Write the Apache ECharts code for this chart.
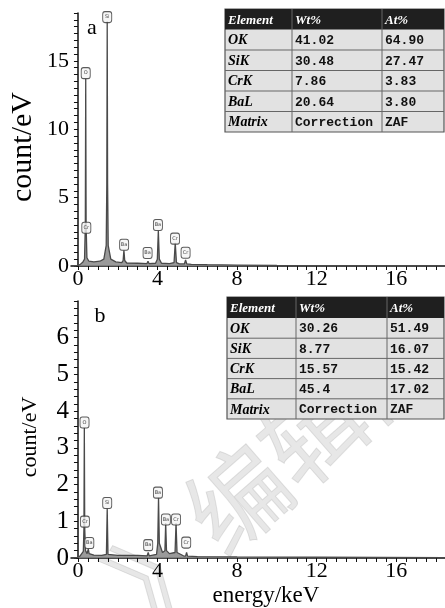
<!DOCTYPE html>
<html><head><meta charset="utf-8">
<script src="https://cdn.jsdelivr.net/npm/echarts@6/dist/echarts.min.js"></script>
<style>html,body{margin:0;padding:0;background:#fff}#c{width:445px;height:608px}</style>
</head><body><div id="c"></div>
<script>
// ---------- data ----------
const energyA = [-0.35, -0.1, 0.1, 0.25, 0.33, 0.37, 0.39, 0.41, 0.45, 0.55, 0.8, 1.1, 1.3, 1.42, 1.45, 1.47, 1.49, 1.52, 1.65, 1.9, 2.2, 2.27, 2.31, 2.35, 2.45, 3.0, 3.47, 3.52, 3.57, 3.9, 3.99, 4.04, 4.09, 4.2, 4.6, 4.83, 4.89, 4.95, 5.1, 5.35, 5.41, 5.47, 5.7, 6.5, 8, 10, 12, 14, 18.45];
const countA  = [0, 0, 0.1, 0.3, 0.5, 3, 13.7, 3, 0.6, 0.35, 0.3, 0.35, 0.5, 1.5, 6, 17.9, 6, 1.5, 0.5, 0.3, 0.25, 0.4, 1.15, 0.4, 0.22, 0.2, 0.18, 0.35, 0.18, 0.2, 0.5, 2.6, 0.5, 0.2, 0.18, 0.25, 1.7, 0.25, 0.15, 0.15, 0.45, 0.15, 0.12, 0.1, 0.07, 0.04, 0.03, 0.02, 0.01];
const peakLabelXA = [0.39, 0.42, 1.47, 2.32, 3.5, 4.02, 4.88, 5.41];
const peakLabelYA = [14.1, 2.8, 18.2, 1.55, 0.95, 3.0, 2.0, 0.97];
const peakLabelTA = ['O', 'Cr', 'Si', 'Ba', 'Ba', 'Ba', 'Cr', 'Cr'];

const energyB = [-0.35, -0.1, 0.1, 0.2, 0.27, 0.3, 0.32, 0.34, 0.38, 0.46, 0.52, 0.56, 0.6, 0.8, 1.2, 1.43, 1.47, 1.51, 2.0, 3.0, 3.48, 3.53, 3.58, 3.95, 4.01, 4.05, 4.09, 4.25, 4.37, 4.41, 4.45, 4.6, 4.88, 4.93, 4.98, 5.3, 5.41, 5.46, 5.51, 6, 8, 12, 18.45];
const countB  = [0, 0, 0.05, 0.1, 0.18, 0.8, 3.55, 0.8, 0.2, 0.12, 0.25, 0.12, 0.1, 0.08, 0.07, 0.1, 1.35, 0.1, 0.07, 0.07, 0.06, 0.15, 0.06, 0.1, 0.4, 1.65, 0.4, 0.15, 0.2, 0.95, 0.2, 0.12, 0.15, 0.95, 0.15, 0.06, 0.05, 0.15, 0.05, 0.04, 0.03, 0.02, 0.01];
const peakLabelXB = [0.33, 0.35, 0.57, 1.47, 3.53, 4.02, 4.42, 4.93, 5.44];
const peakLabelYB = [3.69, 0.99, 0.41, 1.5, 0.35, 1.78, 1.05, 1.05, 0.42];
const peakLabelTB = ['O', 'Cr', 'Ba', 'Si', 'Ba', 'Ba', 'Ba', 'Cr', 'Cr'];

const xTickLabels = [0, 4, 8, 12, 16];
const yTickLabelsA = [0, 5, 10, 15];
const yTickLabelsB = [0, 1, 2, 3, 4, 5, 6];

const tableHeader = ['Element', 'Wt%', 'At%'];
const tableElements = ['OK', 'SiK', 'CrK', 'BaL', 'Matrix'];
const wtA = ['41.02', '30.48', '7.86', '20.64', 'Correction'];
const atA = ['64.90', '27.47', '3.83', '3.80', 'ZAF'];
const wtB = ['30.26', '8.77', '15.57', '45.4', 'Correction'];
const atB = ['51.49', '16.07', '15.42', '17.02', 'ZAF'];

// ---------- helpers ----------
function zip(xs, ys) { const n = Math.min(xs.length, ys.length); const r = []; for (let i = 0; i < n; i++) r.push([xs[i], ys[i]]); return r; }
function steps(from, to, step) { const r = []; const n = Math.round((to - from) / step); for (let i = 0; i <= n; i++) r.push(Math.round((from + i * step) * 1000) / 1000); return r; }
function labelData(xs, ys, ts) { return xs.map((x, i) => ({ value: [x, ys[i]], name: ts[i] })); }

const serif = '"Liberation Serif", "Times New Roman", serif';

function xAxisCfg(grid) {
  return {
    type: 'value', gridIndex: grid, min: -0.35, max: 18.45,
    axisLine: { show: true, onZero: false, lineStyle: { color: '#111', width: 1.5 } },
    axisTick: { show: true, length: 4, lineStyle: { color: '#111', width: 1 }, customValues: steps(0, 18, 0.5) },
    axisLabel: { customValues: xTickLabels, fontFamily: serif, fontSize: 22, color: '#000', margin: 2 },
    splitLine: { show: false }
  };
}
function yAxisCfg(grid, max, labels, tickStep, fs) {
  return {
    type: 'value', gridIndex: grid, min: 0, max: max,
    axisLine: { show: true, lineStyle: { color: '#111', width: 1.5 } },
    axisTick: { show: true, length: 4, lineStyle: { color: '#111', width: 1 }, customValues: steps(0, max, tickStep) },
    axisLabel: { customValues: labels, fontFamily: serif, fontSize: fs, color: '#000', margin: 2 },
    splitLine: { show: false }
  };
}
function spectrum(xi, data) {
  return {
    type: 'line', xAxisIndex: xi, yAxisIndex: xi, data: data, symbol: 'none', smooth: false,
    lineStyle: { color: '#4a4a4a', width: 1.3 }, areaStyle: { color: '#888', opacity: 0.85 }, z: 3, silent: true
  };
}
function markers(xi, data) {
  return {
    type: 'scatter', xAxisIndex: xi, yAxisIndex: xi, data: data, symbol: 'roundRect', symbolSize: [9, 11],
    itemStyle: { color: '#f4f4f4', borderColor: '#333', borderWidth: 1 },
    label: { show: true, position: 'inside', formatter: p => p.name, fontSize: 5, color: '#111', fontFamily: 'DejaVu Sans' },
    z: 5, silent: true
  };
}
function tableGraphics(x0, y0, colX, headH, rowH, wt, at) {
  const els = [];
  const right = colX[3];
  const totalH = headH + rowH * tableElements.length;
  els.push({ type: 'rect', shape: { x: x0, y: y0, width: right - x0, height: totalH }, style: { fill: '#e2e2e2', stroke: '#555', lineWidth: 1.2 }, z: 20 });
  els.push({ type: 'rect', shape: { x: x0, y: y0, width: right - x0, height: headH }, style: { fill: '#1f1f1f' }, z: 21 });
  for (let r = 1; r < tableElements.length; r++) {
    const y = y0 + headH + r * rowH;
    els.push({ type: 'line', shape: { x1: x0, y1: y, x2: right, y2: y }, style: { stroke: '#666', lineWidth: 1 }, z: 22 });
  }
  for (let c = 1; c < 3; c++) {
    els.push({ type: 'line', shape: { x1: colX[c], y1: y0, x2: colX[c], y2: y0 + totalH }, style: { stroke: '#666', lineWidth: 1 }, z: 22 });
  }
  for (let c = 0; c < 3; c++) {
    els.push({ type: 'text', style: { text: tableHeader[c], x: colX[c] + 3, y: y0 + headH / 2 + 1, fill: '#fff', font: 'italic bold 13px ' + serif, align: 'left', verticalAlign: 'middle', textAlign: 'left', textVerticalAlign: 'middle' }, z: 23 });
  }
  for (let r = 0; r < tableElements.length; r++) {
    const cy = y0 + headH + r * rowH + rowH / 2 + 1;
    els.push({ type: 'text', style: { text: tableElements[r], x: colX[0] + 3, y: cy, fill: '#000', font: 'italic bold 14px ' + serif, align: 'left', verticalAlign: 'middle', textAlign: 'left', textVerticalAlign: 'middle' }, z: 23 });
    els.push({ type: 'text', style: { text: wt[r], x: colX[1] + 3, y: cy, fill: '#111', font: 'bold 13px "Liberation Mono", monospace', align: 'left', verticalAlign: 'middle', textAlign: 'left', textVerticalAlign: 'middle' }, z: 23 });
    els.push({ type: 'text', style: { text: at[r], x: colX[2] + 3, y: cy, fill: '#111', font: 'bold 13px "Liberation Mono", monospace', align: 'left', verticalAlign: 'middle', textAlign: 'left', textVerticalAlign: 'middle' }, z: 23 });
  }
  return els;
}
function plainText(text, x, y, font, rot) {
  return { type: 'text', x: x, y: y, rotation: rot || 0, style: { text: text, x: 0, y: 0, fill: '#000', font: font, align: 'center', verticalAlign: 'middle', textAlign: 'center', textVerticalAlign: 'middle' }, z: 30 };
}

const chart = echarts.init(document.getElementById('c'), null, { renderer: 'canvas' });
const graphics = [
  { type: 'text', x: 275, y: 465, rotation: 0.72, style: { text: '》编辑部', x: 0, y: 0, fill: 'rgba(170,170,170,0.28)', stroke: 'rgba(150,150,150,0.25)', lineWidth: 1, font: '100px "Noto Sans CJK SC"', align: 'center', verticalAlign: 'middle', textAlign: 'center', textVerticalAlign: 'middle' }, z: -10, silent: true },
  plainText('count/eV', 23, 147, '30px ' + serif, Math.PI / 2),
  plainText('count/eV', 30, 437, '22px ' + serif, Math.PI / 2),
  plainText('energy/keV', 266, 596, '23px ' + serif, 0),
  plainText('a', 92, 28, '22px ' + serif, 0),
  plainText('b', 100, 316, '22px ' + serif, 0)
].concat(tableGraphics(225, 9, [225, 292, 382, 444], 20.5, 20.5, wtA, atA))
 .concat(tableGraphics(227, 297, [227, 296, 387, 444], 21, 20.2, wtB, atB));

chart.setOption({
  animation: false,
  backgroundColor: '#fff',
  grid: [
    { left: 71, top: 13, width: 374, height: 253 },
    { left: 71, top: 301, width: 374, height: 257 }
  ],
  xAxis: [xAxisCfg(0), xAxisCfg(1)],
  yAxis: [yAxisCfg(0, 18.5, yTickLabelsA, 0.5, 22), yAxisCfg(1, 7, yTickLabelsB, 0.2, 25)],
  series: [
    spectrum(0, zip(energyA, countA)),
    markers(0, labelData(peakLabelXA, peakLabelYA, peakLabelTA)),
    spectrum(1, zip(energyB, countB)),
    markers(1, labelData(peakLabelXB, peakLabelYB, peakLabelTB))
  ],
  graphic: { elements: graphics }
});
</script></body></html>
